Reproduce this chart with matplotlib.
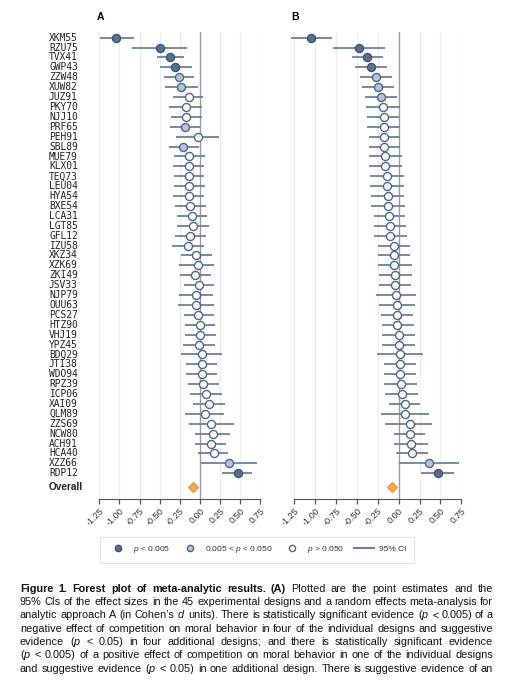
import matplotlib
matplotlib.use("Agg")
import matplotlib.pyplot as plt
import matplotlib.transforms as mtransforms
from matplotlib.lines import Line2D
import numpy as np

plt.rcParams['font.family'] = ['Liberation Sans', 'DejaVu Sans']
plt.rcParams['mathtext.fontset'] = 'custom'
plt.rcParams['mathtext.rm'] = 'Liberation Sans'
plt.rcParams['mathtext.it'] = 'Liberation Sans:italic'

# design labels (panel A order)
labels = ["XKM55", "RZU75", "TVX41", "GWP43", "ZZW48", "XUW82", "JUZ91", "PKY70", "NJJ10",
          "PRF65", "PEH91", "SBL89", "MUE79", "KLX01", "TEQ73", "LEU04", "HYA54", "BXE54",
          "LCA31", "LGT85", "GFL12", "IZU58", "XKZ34", "XZK69", "ZKI49", "JSV33", "NJP79",
          "OUU63", "PCS27", "HTZ90", "VHJ19", "YPZ45", "BDQ29", "JTI38", "WDO94", "RPZ39",
          "ICP06", "XAI09", "QLM89", "ZZS69", "NCW80", "ACH91", "HCA40", "XZZ66", "RDP12"]

# panel A: estimate, CI, significance class (0: p<0.005, 1: 0.005<p<0.05, 2: p>0.05)
est_a = [-1.04, -0.50, -0.37, -0.31, -0.26, -0.23, -0.14, -0.17, -0.17, -0.19, -0.03, -0.21,
         -0.13, -0.14, -0.13, -0.13, -0.13, -0.12, -0.10, -0.09, -0.12, -0.15, -0.05, -0.03,
         -0.06, -0.01, -0.05, -0.05, -0.02, 0.00, 0.00, -0.01, 0.02, 0.02, 0.02, 0.04,
         0.08, 0.11, 0.06, 0.14, 0.16, 0.14, 0.17, 0.36, 0.47]
lo_a = [-1.24, -0.85, -0.53, -0.50, -0.45, -0.44, -0.34, -0.38, -0.36, -0.37, -0.30, -0.39,
        -0.32, -0.34, -0.32, -0.32, -0.33, -0.31, -0.29, -0.28, -0.31, -0.35, -0.24, -0.26,
        -0.25, -0.20, -0.26, -0.27, -0.20, -0.19, -0.19, -0.21, -0.24, -0.17, -0.17, -0.15,
        -0.12, -0.09, -0.19, -0.13, -0.06, -0.06, -0.02, 0.01, 0.27]
hi_a = [-0.82, -0.16, -0.20, -0.10, -0.07, -0.02, 0.04, 0.03, 0.02, 0.00, 0.24, -0.01,
        0.06, 0.05, 0.05, 0.06, 0.05, 0.07, 0.09, 0.11, 0.08, 0.05, 0.15, 0.18,
        0.14, 0.17, 0.16, 0.17, 0.18, 0.19, 0.20, 0.19, 0.28, 0.21, 0.21, 0.24,
        0.27, 0.31, 0.30, 0.42, 0.37, 0.33, 0.35, 0.71, 0.65]
sig_a = [0, 0, 0, 0, 1, 1, 2, 2, 2, 1, 2, 1] + [2] * 31 + [1, 0]

# panel B (sorted by estimate, no labels)
est_b = [-1.05, -0.47, -0.38, -0.33, -0.27, -0.25, -0.21, -0.19, -0.18, -0.18, -0.17, -0.17,
         -0.16, -0.16, -0.14, -0.14, -0.13, -0.13, -0.11, -0.10, -0.10, -0.06, -0.06, -0.05,
         -0.04, -0.04, -0.03, -0.02, -0.02, -0.02, 0.00, 0.00, 0.01, 0.02, 0.02, 0.03,
         0.04, 0.07, 0.08, 0.13, 0.14, 0.15, 0.16, 0.36, 0.47]
lo_b = [-1.29, -0.79, -0.56, -0.52, -0.46, -0.44, -0.40, -0.39, -0.38, -0.38, -0.36, -0.36,
        -0.35, -0.35, -0.34, -0.34, -0.33, -0.33, -0.30, -0.30, -0.29, -0.25, -0.25, -0.25,
        -0.23, -0.23, -0.27, -0.24, -0.21, -0.20, -0.20, -0.20, -0.26, -0.18, -0.18, -0.17,
        -0.16, -0.12, -0.21, -0.16, -0.06, -0.05, -0.03, 0.00, 0.27]
hi_b = [-0.80, -0.16, -0.19, -0.14, -0.08, -0.06, -0.02, 0.01, 0.00, 0.02, 0.02, 0.02,
        0.04, 0.04, 0.06, 0.06, 0.06, 0.07, 0.08, 0.09, 0.10, 0.14, 0.14, 0.16,
        0.16, 0.15, 0.21, 0.20, 0.17, 0.18, 0.19, 0.19, 0.29, 0.21, 0.21, 0.22,
        0.23, 0.26, 0.36, 0.40, 0.32, 0.35, 0.35, 0.72, 0.66]
sig_b = [0, 0, 0, 0, 1, 1, 1] + [2] * 36 + [1, 0]

overall_a = -0.08
overall_b = -0.08

xticks = [-1.25, -1.00, -0.75, -0.50, -0.25, 0.00, 0.25, 0.50, 0.75]

legend_labels = [r"$p$ < 0.005", r"0.005 < $p$ < 0.050", r"$p$ > 0.050", "95% CI"]

caption = [
    "Figure 1. Forest plot of meta-analytic results. (A) Plotted are the point estimates and the",
    "95% CIs of the effect sizes in the 45 experimental designs and a random effects meta-analysis for",
    "analytic approach A (in Cohen’s $d$ units). There is statistically significant evidence ($p$ < 0.005) of a",
    "negative effect of competition on moral behavior in four of the individual designs and suggestive",
    "evidence ($p$ < 0.05) in four additional designs; and there is statistically significant evidence",
    "($p$ < 0.005) of a positive effect of competition on moral behavior in one of the individual designs",
    "and suggestive evidence ($p$ < 0.05) in one additional design. There is suggestive evidence of an",
]

W, H = 515, 680
fig = plt.figure(figsize=(W / 100, H / 100), dpi=100)

fills = ["#5b6f8f", "#b5c4d8", "#ffffff"]
edges = ["#3e5375", "#4f6688", "#4f6688"]
ci_col = "#6d809c"

y_top, y_bot = 31.7, 499.0
row0, dy = 37.7, 9.9


def yfig(p):
    return 1 - p / H


def forest(left, right, est, lo, hi, sig, overall):
    ax = fig.add_axes([left / W, yfig(y_bot), (right - left) / W, (y_bot - y_top) / H])
    n = len(est)
    ys = np.arange(n)
    ax.set_xlim(-1.25, 0.75)
    ax.set_ylim((y_bot - row0) / dy, (y_top - row0) / dy)
    for x in xticks:
        if x != 0:
            ax.axvline(x, color="#ececec", lw=0.8, zorder=0)
    ax.axvline(0, color="#9a9a9a", lw=1.0, zorder=1)
    ax.hlines(ys, lo, hi, color=ci_col, lw=1.3, zorder=2, clip_on=False)
    for k in range(3):
        idx = [i for i in range(n) if sig[i] == k]
        ax.plot(np.array(est)[idx], ys[idx], "o", ms=5.8, mfc=fills[k], mec=edges[k],
                mew=1.0, zorder=3, clip_on=False)
    y_ov = (487.3 - row0) / dy
    ax.plot([overall], [y_ov], "D", ms=5.0, mfc="#f2ac55", mec="#e0903a", mew=0.8, zorder=3)
    for s in ["top", "right", "left"]:
        ax.spines[s].set_visible(False)
    ax.spines["bottom"].set_color("#555555")
    ax.set_yticks([])
    ax.set_xticks(xticks)
    ax.set_xticklabels([f"{v:.2f}" for v in xticks], rotation=45, ha="right",
                       rotation_mode="anchor", fontsize=6.6, color="#333333")
    ax.tick_params(axis="x", length=3.5, width=0.9, color="#555555", pad=2)
    return ax, y_ov


ax_a, y_ov = forest(99.3, 260.3, est_a, lo_a, hi_a, sig_a, overall_a)
ax_b, _ = forest(294.3, 461.3, est_b, lo_b, hi_b, sig_b, overall_b)

tr = mtransforms.blended_transform_factory(fig.transFigure, ax_a.transData)
for i, lab in enumerate(labels):
    ax_a.text(49 / W, i, lab, transform=tr, ha="left", va="center", fontsize=6.9,
              family="DejaVu Sans Mono", color="#222222")
ax_a.text(49 / W, y_ov, "Overall", transform=tr, ha="left", va="center", fontsize=7.2,
          weight="bold", color="#222222")

fig.text(97 / W, yfig(17), "A", fontsize=7.5, weight="bold", ha="left", va="center")
fig.text(291 / W, yfig(17), "B", fontsize=7.5, weight="bold", ha="left", va="center")

handles = [Line2D([], [], marker="o", ls="none", ms=4.5, mfc=fills[k], mec=edges[k], mew=1.0)
           for k in range(3)]
handles.append(Line2D([], [], color=ci_col, lw=1.5))
leg = fig.legend(handles, legend_labels, ncol=4, loc="center", bbox_to_anchor=(257 / W, yfig(549.5)),
                 fontsize=6, frameon=True, fancybox=False, edgecolor="#dddddd",
                 handlelength=2.4, handletextpad=0.6, columnspacing=1.2, borderpad=0.9)
leg.get_frame().set_linewidth(0.8)
for t in leg.get_texts():
    t.set_color("#333333")

# justified caption
r = fig.canvas.get_renderer()
x0, x1 = 20 / W, 493 / W
for li, line in enumerate(caption):
    y = yfig(592 + li * 13.25)
    words = line.split(" ")
    texts = []
    for wi, w in enumerate(words):
        bold = li == 0 and wi < 8
        t = fig.text(0, y, w, fontsize=7.8, weight="bold" if bold else "normal",
                     va="baseline", ha="left", color="#111111")
        texts.append(t)
    widths = [t.get_window_extent(r).width / W for t in texts]
    gap = max((x1 - x0 - sum(widths)) / (len(texts) - 1), 1.5 / W)
    x = x0
    for t, wd in zip(texts, widths):
        t.set_x(x)
        x += wd + gap

fig.savefig("out.png", dpi=100)
